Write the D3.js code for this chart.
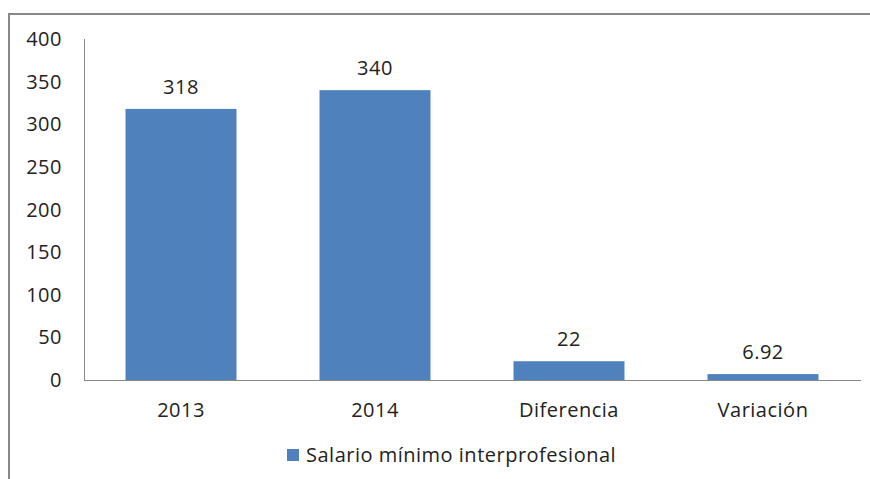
<!DOCTYPE html>
<html>
<head>
<meta charset="utf-8">
<script src="https://cdn.jsdelivr.net/npm/d3@7"></script>
<style>
  body { margin: 0; background: #fff; }
  text { font-family: "Open Sans", sans-serif; fill: #222; letter-spacing: 0.5px; }
</style>
</head>
<body>
<div id="chart"></div>
<script>
var categories = ["2013", "2014", "Diferencia", "Variación"];
var values = [318, 340, 22, 6.92];
var labels = ["318", "340", "22", "6.92"];
var yTicks = [0, 50, 100, 150, 200, 250, 300, 350, 400];
var seriesName = "Salario mínimo interprofesional";

var width = 870, height = 479;
var color = "#4F81BD";
var fontSize = "20px";

var svg = d3.select("#chart").append("svg")
    .attr("width", width)
    .attr("height", height);

// outer frame (only top and left visible)
svg.append("path")
    .attr("d", "M9,480 V14 H872")
    .attr("fill", "none")
    .attr("stroke", "#888")
    .attr("stroke-width", 2);

var x = d3.scaleBand()
    .domain(categories)
    .range([84, 860])
    .paddingInner(0.428)
    .paddingOuter(0.214);

var y = d3.scaleLinear()
    .domain([0, 400])
    .range([380, 39]);

// y axis labels
svg.append("g").selectAll("text")
    .data(yTicks).enter()
    .append("text")
    .attr("x", 62)
    .attr("y", function (d) { return y(d); })
    .attr("dy", "0.35em")
    .attr("text-anchor", "end")
    .attr("font-size", fontSize)
    .text(function (d) { return d; });

// bars
svg.append("g").selectAll("rect")
    .data(values).enter()
    .append("rect")
    .attr("x", function (d, i) { return x(categories[i]); })
    .attr("y", function (d) { return y(d); })
    .attr("width", x.bandwidth())
    .attr("height", function (d) { return y(0) - y(d); })
    .attr("fill", color);

// axes lines
svg.append("line")
    .attr("x1", 84.5).attr("x2", 84.5)
    .attr("y1", y(400)).attr("y2", y(0))
    .attr("stroke", "#888");
svg.append("line")
    .attr("x1", 84).attr("x2", 861)
    .attr("y1", y(0) + 0.5).attr("y2", y(0) + 0.5)
    .attr("stroke", "#888");

// value labels
svg.append("g").selectAll("text")
    .data(values).enter()
    .append("text")
    .attr("x", function (d, i) { return x(categories[i]) + x.bandwidth() / 2; })
    .attr("y", function (d) { return y(d) - 22; })
    .attr("dy", "0.35em")
    .attr("text-anchor", "middle")
    .attr("font-size", fontSize)
    .text(function (d, i) { return labels[i]; });

// category labels
svg.append("g").selectAll("text")
    .data(categories).enter()
    .append("text")
    .attr("x", function (d) { return x(d) + x.bandwidth() / 2; })
    .attr("y", 410)
    .attr("dy", "0.35em")
    .attr("text-anchor", "middle")
    .attr("font-size", fontSize)
    .text(function (d) { return d; });

// legend
var legend = svg.append("g").attr("transform", "translate(287,455)");
legend.append("rect")
    .attr("x", 0).attr("y", -6)
    .attr("width", 12).attr("height", 12)
    .attr("fill", color);
legend.append("text")
    .attr("x", 19)
    .attr("y", 0)
    .attr("dy", "0.35em")
    .attr("font-size", fontSize)
    .text(seriesName);
</script>
</body>
</html>
